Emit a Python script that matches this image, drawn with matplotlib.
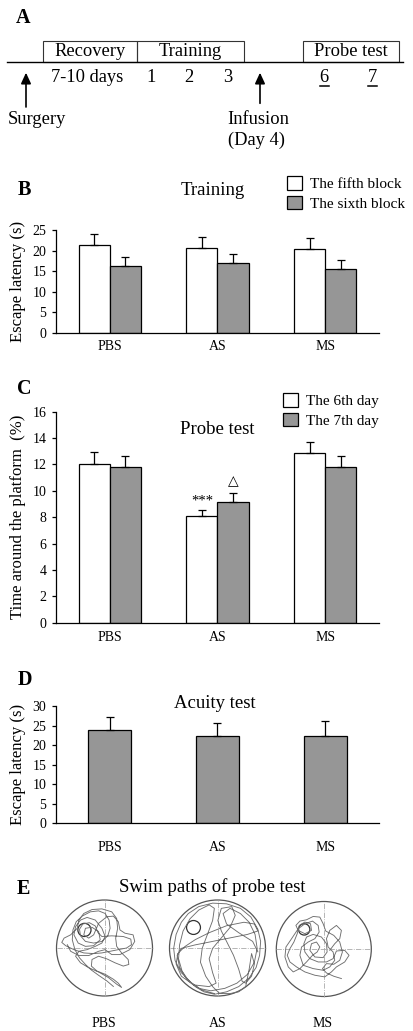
import numpy as np
import matplotlib
matplotlib.use("Agg")
import matplotlib.pyplot as plt
import matplotlib.transforms as mtransforms
from matplotlib.patches import Rectangle, Circle

plt.rcParams['font.family'] = ['Liberation Serif', 'DejaVu Sans']

# data
groups = ["PBS", "AS", "MS"]

# B: training, escape latency (s)
fifth_block = [21.4, 20.6, 20.3]
fifth_block_sem = [2.6, 2.8, 2.8]
sixth_block = [16.3, 17.1, 15.5]
sixth_block_sem = [2.2, 2.0, 2.2]

# C: probe test, time around the platform (%)
day6 = [12.0, 8.1, 12.85]
day6_sem = [0.95, 0.45, 0.85]
day7 = [11.8, 9.15, 11.8]
day7_sem = [0.85, 0.7, 0.85]

# D: acuity test, escape latency (s)
acuity = [23.9, 22.3, 22.3]
acuity_sem = [3.2, 3.3, 3.9]

# A: timeline
stage_labels = ["Recovery", "Training", "Probe test"]
day_labels = ["7-10 days", "1", "2", "3", "6", "7"]
underlined_days = ["6", "7"]

# E: swim paths (tracker pixels), pool centre/radius and platform in the same units
pbs_path_x = [185, 165, 140, 118, 100, 82, 68, 60, 62, 72, 90, 115, 140, 160, 172, 175, 168, 150, 125, 100,
              85, 82, 92, 112, 130, 138, 150, 180, 215, 238, 240, 225, 200, 175, 150, 125, 95, 65, 40, 28,
              35, 55, 75, 80, 95, 120, 150, 180, 195, 198, 192, 195, 210, 230, 232, 215, 190, 165, 140, 120,
              118, 135, 160, 185, 200, 210, 195, 170, 140, 110, 85, 70, 80, 105, 130, 150, 160, 150, 130, 105,
              85, 70, 65, 78, 100, 125, 145, 140, 120, 100, 95, 110, 125, 140, 165, 185, 200, 205, 220, 245,
              250, 235, 205, 180, 160, 140, 110, 80, 55, 45]
pbs_path_y = [272, 255, 238, 222, 205, 185, 160, 130, 100, 75, 58, 45, 42, 50, 70, 95, 118, 135, 140, 135,
              118, 98, 82, 78, 88, 108, 120, 118, 120, 128, 145, 155, 160, 165, 170, 172, 170, 160, 148, 138,
              125, 115, 95, 70, 50, 38, 36, 45, 65, 95, 125, 150, 170, 190, 205, 210, 200, 188, 180, 190,
              210, 225, 235, 250, 262, 275, 265, 245, 228, 215, 200, 180, 165, 160, 150, 140, 120, 95, 70, 62,
              70, 90, 115, 140, 150, 148, 130, 105, 92, 95, 115, 125, 115, 80, 60, 58, 75, 100, 110, 115,
              135, 160, 175, 175, 160, 165, 178, 178, 165, 145]
pbs_pool = (158, 155, 146)
pbs_platform = (97, 100, 20)

as_path_x = [155, 120, 90, 60, 42, 38, 45, 60, 80, 110, 150, 190, 230, 260, 280, 288, 285, 275, 255, 225,
             190, 155, 125, 100, 75, 55, 48, 60, 100, 150, 200, 250, 280, 270, 240, 190, 140, 100, 70, 50,
             45, 60, 95, 140, 160, 150, 140, 150, 175, 200, 215, 205, 175, 165, 175, 190, 210, 225, 235, 245,
             262, 270, 262, 255, 245, 225, 200, 170, 150, 130, 115, 120, 135, 150, 155, 140, 110, 85, 65, 55,
             52, 62, 80, 110, 145, 185, 220, 250, 270, 278, 272, 255, 230, 200, 180, 190, 225, 265, 280]
as_path_y = [300, 290, 270, 240, 205, 170, 130, 95, 70, 50, 40, 42, 55, 80, 115, 150, 190, 225, 255, 280,
             295, 302, 295, 280, 258, 225, 190, 170, 160, 150, 140, 130, 120, 100, 95, 105, 125, 145, 165, 185,
             215, 250, 275, 280, 270, 240, 200, 170, 140, 110, 75, 50, 55, 90, 120, 150, 190, 230, 265, 270,
             250, 215, 185, 230, 280, 295, 300, 300, 280, 250, 210, 170, 130, 90, 55, 45, 60, 85, 120, 160,
             200, 235, 262, 285, 292, 285, 270, 245, 210, 170, 130, 95, 70, 55, 70, 100, 125, 150, 180]
as_pool = (164, 169, 138)
as_platform = (95, 110, 20)

ms_path_x = [205, 182, 160, 148, 160, 182, 200, 208, 200, 182, 158, 150, 140, 120, 100, 80, 68, 75, 95, 115,
             112, 95, 78, 72, 62, 50, 42, 50, 70, 95, 125, 155, 175, 190, 215, 228, 215, 190, 180, 160,
             135, 110, 95, 92, 100, 120, 145, 160, 162, 150, 125, 110, 115, 130, 140, 132, 118, 100, 80, 60,
             45, 35, 38, 55, 75, 95, 118, 135, 138, 125, 105, 85, 80, 90, 120, 150, 170, 185, 180, 165,
             160, 170, 190, 205, 200, 185, 170]
ms_path_y = [245, 238, 228, 215, 200, 202, 190, 165, 135, 115, 102, 80, 60, 58, 68, 72, 85, 100, 110, 100,
             80, 75, 85, 110, 135, 155, 175, 195, 210, 225, 235, 240, 225, 210, 195, 175, 160, 162, 185, 195,
             195, 185, 165, 140, 120, 112, 120, 140, 165, 182, 180, 160, 140, 135, 150, 165, 175, 195, 215, 225,
             210, 180, 150, 125, 95, 80, 72, 85, 105, 125, 135, 150, 175, 205, 215, 220, 210, 190, 165, 150,
             125, 100, 85, 100, 125, 140, 160]
ms_pool = (152, 156, 143)
ms_platform = (93, 97, 17)

W, H = 413, 1031
fig = plt.figure(figsize=(W / 100, H / 100), dpi=100)


def px_axes(left, top, right, bottom):
    return fig.add_axes([left / W, 1 - bottom / H, (right - left) / W, (bottom - top) / H])


def style_bar_axes(ax, ymax, step, xpad):
    ax.set_xlim(-0.5, 2.5)
    ax.set_ylim(0, ymax)
    ax.set_yticks(np.arange(0, ymax + 0.1, step))
    ax.set_xticks(np.arange(3), groups)
    for s in ["top", "right"]:
        ax.spines[s].set_visible(False)
    for s in ["left", "bottom"]:
        ax.spines[s].set_linewidth(0.9)
    ax.tick_params(axis='y', direction='out', length=3, width=0.9, labelsize=10, pad=4)
    ax.tick_params(axis='x', length=0, labelsize=10, pad=xpad)
    ax.set_facecolor('none')


def paired_bars(ax, a, a_err, b, b_err):
    x = np.arange(3)
    w = 0.29
    h1 = ax.bar(x - w / 2, a, w, color='white', edgecolor='black', lw=0.9)
    h2 = ax.bar(x + w / 2, b, w, color=gray, edgecolor='black', lw=0.9)
    for xs, m, e in [(x - w / 2, a, a_err), (x + w / 2, b, b_err)]:
        ax.errorbar(xs, m, yerr=[np.zeros(3), e], fmt='none', ecolor='black',
                    elinewidth=0.9, capsize=3.2, capthick=0.9)
    return h1, h2


gray = '#969696'

# ---- B
axB = px_axes(56, 230, 379, 333)
hb1, hb2 = paired_bars(axB, fifth_block, fifth_block_sem, sixth_block, sixth_block_sem)
style_bar_axes(axB, 25, 5, 5)
axB.set_ylabel("Escape latency (s)", fontsize=12)
axB.legend([hb1, hb2], ["The fifth block", "The sixth block"], loc='upper left',
           bbox_to_anchor=(287 / W, 1 - 176 / H), bbox_transform=fig.transFigure,
           frameon=False, fontsize=11, handlelength=1.0, handleheight=1.0,
           handletextpad=0.5, labelspacing=0.3, borderpad=0, borderaxespad=0)

# ---- C
axC = px_axes(56, 411.7, 379, 622.7)
hc1, hc2 = paired_bars(axC, day6, day6_sem, day7, day7_sem)
style_bar_axes(axC, 16, 2, 6)
axC.set_ylabel("Time around the platform  (%)", fontsize=12)
axC.legend([hc1, hc2], ["The 6th day", "The 7th day"], loc='upper left',
           bbox_to_anchor=(283 / W, 1 - 393 / H), bbox_transform=fig.transFigure,
           frameon=False, fontsize=11, handlelength=1.0, handleheight=1.0,
           handletextpad=0.5, labelspacing=0.3, borderpad=0, borderaxespad=0)
axC.text(1 - 0.145, day6[1] + day6_sem[1] + 0.2, "***", ha='center', va='bottom', fontsize=10.5)
axC.text(1 + 0.145, day7[1] + day7_sem[1] + 0.35, "\u25b3", ha='center', va='bottom', fontsize=10,
         family=['DejaVu Sans'])

# ---- D
axD = px_axes(56, 706, 379, 823.3)
axD.bar(np.arange(3), acuity, 0.4, color=gray, edgecolor='black', lw=0.9)
axD.errorbar(np.arange(3), acuity, yerr=[np.zeros(3), acuity_sem], fmt='none', ecolor='black',
             elinewidth=0.9, capsize=3.2, capthick=0.9)
style_bar_axes(axD, 30, 5, 13)
axD.set_ylabel("Escape latency (s)", fontsize=12)

for ax in (axB, axC, axD):
    ax.yaxis.set_label_coords(18 / W, 0.5,
                              transform=mtransforms.blended_transform_factory(fig.transFigure, ax.transAxes))
    ax.yaxis.label.set_va('center')

# ---- E: swim paths
pools = [(pbs_path_x, pbs_path_y, pbs_pool, pbs_platform, 104.5, 948, 48),
         (as_path_x, as_path_y, as_pool, as_platform, 217.5, 948, 48),
         (ms_path_x, ms_path_y, ms_pool, ms_platform, 323.8, 949, 47.5)]
for name, (px, py, pool, plat, cx, cy, r) in zip(groups, pools):
    ax = px_axes(cx - r * 1.05, cy - r * 1.05, cx + r * 1.05, cy + r * 1.05)
    ax.set_xlim(-1.05, 1.05)
    ax.set_ylim(-1.05, 1.05)
    ax.axis('off')
    pcx, pcy, pr = pool
    xs = (np.array(px) - pcx) / pr
    ys = (pcy - np.array(py)) / pr
    ax.plot([-1, 1], [0, 0], ls='-.', color='#aaaaaa', lw=0.6)
    ax.plot([0, 0], [-1, 1], ls='-.', color='#aaaaaa', lw=0.6)
    ax.plot(xs, ys, color='#6e6e6e', lw=0.65, solid_joinstyle='round')
    ax.add_patch(Circle((0, 0), 1, fill=False, ec='#555555', lw=0.9))
    ax.add_patch(Circle(((plat[0] - pcx) / pr, (pcy - plat[1]) / pr), plat[2] / pr,
                        fill=False, ec='#333333', lw=0.9))

# ---- overlay for panel A and texts (pixel coords)
ov = fig.add_axes([0, 0, 1, 1])
ov.set_xlim(0, W)
ov.set_ylim(H, 0)
ov.axis('off')
ov.set_facecolor('none')

# timeline
ov.plot([7, 403], [61.7, 61.7], color='black', lw=1.0)
for label, (x0, x1) in zip(stage_labels, [(43, 137), (137, 244), (303, 399)]):
    ov.add_patch(Rectangle((x0, 40.7), x1 - x0, 21, fill=False, ec='#333333', lw=0.8))
    ov.text((x0 + x1) / 2, 56, label, ha='center', va='baseline', fontsize=13.3)
for label, x in zip(day_labels, [87.5, 151, 189, 228, 324, 372]):
    ov.text(x, 81.5, label, ha='center', va='baseline', fontsize=13.3)
    if label in underlined_days:
        ov.plot([x - 4.5, x + 4.5], [86, 86], color='black', lw=1.1)
for x, y0 in [(26, 107), (260, 103.3)]:
    ov.annotate('', xy=(x, 72.7), xytext=(x, y0),
                arrowprops=dict(arrowstyle='-|>,head_length=0.65,head_width=0.3',
                                mutation_scale=10, lw=1.2, color='black', shrinkA=0, shrinkB=0))
ov.text(37, 124, "Surgery", ha='center', va='baseline', fontsize=13.3)
ov.text(258.5, 124, "Infusion", ha='center', va='baseline', fontsize=13.3)
ov.text(256, 145, "(Day 4)", ha='center', va='baseline', fontsize=13.3)

# panel letters
for letter, x, y in [("A", 23, 23.3), ("B", 24, 195), ("C", 24, 394.3), ("D", 25, 685), ("E", 23, 894.3)]:
    ov.text(x, y, letter, ha='center', va='baseline', fontsize=14.5, fontweight='bold')

# titles
ov.text(213, 195, "Training", ha='center', va='baseline', fontsize=13.5)
ov.text(217, 434, "Probe test", ha='center', va='baseline', fontsize=13.5)
ov.text(215, 708.3, "Acuity test", ha='center', va='baseline', fontsize=13.5)
ov.text(212, 891.7, "Swim paths of probe test", ha='center', va='baseline', fontsize=13.5)
for name, x in zip(groups, [104, 218, 323]):
    ov.text(x, 1026.7, name, ha='center', va='baseline', fontsize=10)

fig.savefig("out.png", dpi=100)
